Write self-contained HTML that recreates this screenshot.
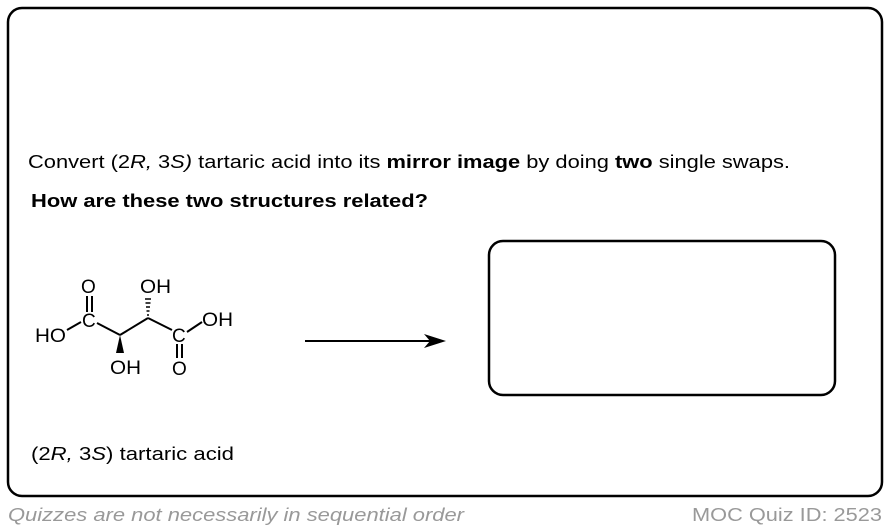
<!DOCTYPE html>
<html><head><style>
body{margin:0;background:#fff;}
svg{display:block;font-family:"Liberation Sans",Arial,sans-serif;}
</style></head><body>
<svg width="890" height="530" viewBox="0 0 890 530">
<rect x="8" y="8" width="874" height="488" rx="14" fill="none" stroke="#000" stroke-width="2.5"/>
<text x="28" y="168" font-size="18" textLength="762" lengthAdjust="spacingAndGlyphs">Convert (2<tspan font-style="italic">R,</tspan> 3<tspan font-style="italic">S)</tspan> tartaric acid into its <tspan font-weight="bold">mirror image</tspan> by doing <tspan font-weight="bold">two</tspan> single swaps.</text>
<text x="31" y="207" font-size="18" font-weight="bold" textLength="397" lengthAdjust="spacingAndGlyphs">How are these two structures related?</text>
<text x="31" y="460" font-size="18" textLength="203" lengthAdjust="spacingAndGlyphs">(2<tspan font-style="italic">R,</tspan> 3<tspan font-style="italic">S</tspan>) tartaric acid</text>
<text x="8" y="521" font-size="18" font-style="italic" fill="#999" textLength="456" lengthAdjust="spacingAndGlyphs">Quizzes are not necessarily in sequential order</text>
<text x="882" y="521" font-size="18" fill="#999" text-anchor="end" textLength="190" lengthAdjust="spacingAndGlyphs">MOC Quiz ID: 2523</text>
<rect x="489" y="241" width="346" height="154" rx="14" fill="none" stroke="#000" stroke-width="2.5"/>
<line x1="305" y1="341" x2="430" y2="341" stroke="#000" stroke-width="2"/>
<polygon points="446,341 424,334 430,341 424,348" fill="#000"/>
<g font-size="19" fill="#000">
<text x="81" y="293">O</text>
<text x="82" y="327">C</text>
<text x="35" y="342" textLength="31" lengthAdjust="spacingAndGlyphs">HO</text>
<text x="110" y="374" textLength="31" lengthAdjust="spacingAndGlyphs">OH</text>
<text x="140" y="293" textLength="31" lengthAdjust="spacingAndGlyphs">OH</text>
<text x="172" y="342">C</text>
<text x="202" y="326" textLength="31" lengthAdjust="spacingAndGlyphs">OH</text>
<text x="172" y="375">O</text>
</g>
<g stroke="#000" stroke-width="2" fill="none">
<line x1="87" y1="296" x2="87" y2="312"/><line x1="92" y1="296" x2="92" y2="312"/>
<line x1="67" y1="330" x2="81" y2="322"/>
<line x1="97" y1="323" x2="120" y2="335"/>
<line x1="120" y1="335" x2="148" y2="318"/>
<line x1="148" y1="318" x2="172" y2="330"/>
<line x1="187" y1="332" x2="202" y2="322"/>
<line x1="177" y1="344" x2="177" y2="358"/><line x1="182" y1="344" x2="182" y2="358"/>
</g>
<polygon points="120,335 116,353 124,353" fill="#000"/>
<g stroke="#000" stroke-width="1.5">
<line x1="147" y1="315" x2="149" y2="315"/>
<line x1="146.5" y1="311" x2="149.5" y2="311"/>
<line x1="146" y1="307" x2="150" y2="307"/>
<line x1="145.5" y1="303" x2="150.5" y2="303"/>
<line x1="145" y1="299" x2="151" y2="299"/>
</g>
</svg>
</body></html>
